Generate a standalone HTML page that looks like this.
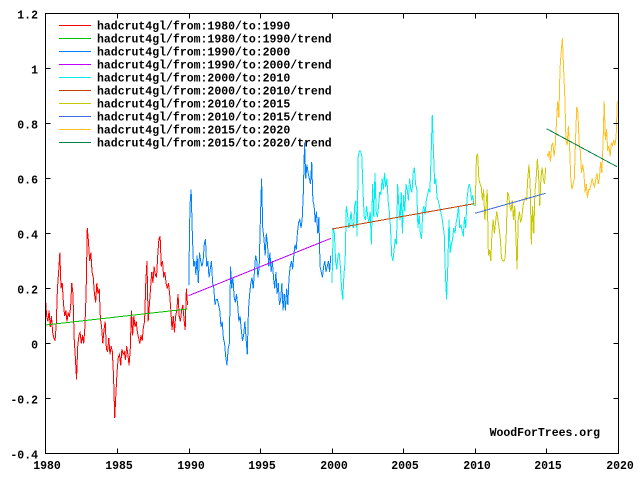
<!DOCTYPE html>
<html>
<head>
<meta charset="utf-8">
<style>
html,body{margin:0;padding:0;background:#fff;}
svg{display:block;}
text{font-family:"Liberation Mono","DejaVu Sans Mono",monospace;font-weight:bold;font-size:11.5px;fill:#000;}
</style>
</head>
<body>
<svg width="640" height="480" viewBox="0 0 640 480" xmlns="http://www.w3.org/2000/svg">
<rect x="0" y="0" width="640" height="480" fill="#fff"/>

<!-- series -->
<g transform="translate(45.5,343.5) scale(1.19375,-2.75)" fill="none" stroke-width="1" shape-rendering="crispEdges">
<polyline vector-effect="non-scaling-stroke" stroke="#ff0000" points="0,16 1,10 2,8 3,12 4,6 5,10 6,4 7,2 8,1 9,7 10,20 11,26 12,33 13,20 14,22 15,15 16,10 17,12 18,8 19,11 20,10 21,13 22,22 23,18 24,2 25,-5 26,-13 27,-1 28,3 29,4 30,0 31,3 32,0 33,6 34,18 35,42 36,37 37,30 38,33 39,26 40,24 41,18 42,15 43,22 44,18 45,20 46,9 47,6 48,0 49,5 50,8 51,-2 52,-3 53,2 54,-4 55,-1 56,-3 57,-12 58,-27 59,-18 60,-10 61,-5 62,-4 63,-8 64,-2 65,-4 66,-3 67,-6 68,-1 69,-4 70,-8 71,-2 72,12 73,3 74,10 75,6 76,8 77,4 78,2 79,0 80,3 81,1 82,6 83,8 84,22 85,30 86,8 87,14 88,20 89,26 90,22 91,28 92,25 93,24 94,32 95,38 96,39 97,28 98,30 99,24 100,26 101,22 102,20 103,22 104,18 105,12 106,5 107,10 108,4 109,10 110,12 111,18 112,10 113,8 114,12 115,14 116,9 117,5 118,20 119,14"/>
<polyline vector-effect="non-scaling-stroke" stroke="#0080ff" points="120,21 121,50 122,56 123,40 124,28 125,30 126,25 127,32 128,22 129,33 130,30 131,28 132,30 133,36 134,38 135,28 136,30 137,24 138,27 139,30 140,22 141,20 142,14 143,16 144,16 145,14 146,12 147,6 148,8 149,2 150,0 151,-5 152,-8 153,-2 154,0 155,28 156,20 157,24 158,17 159,15 160,18 161,14 162,8 163,10 164,5 165,1 166,3 167,8 168,2 169,-4 170,12 171,18 172,22 173,24 174,20 175,26 176,32 177,30 178,24 179,28 180,45 181,60 182,42 183,38 184,32 185,40 186,36 187,28 188,33 189,26 190,30 191,24 192,20 193,26 194,18 195,22 196,14 197,16 198,22 199,12 200,18 201,12 202,20 203,14 204,24 205,28 206,30 207,27 208,32 209,36 210,34 211,40 212,44 213,45 214,42 215,45 216,55 217,73 218,60 219,65 220,62 221,60 222,58 223,66 224,52 225,50 226,44 227,48 228,40 229,46 230,28 231,26 232,24 233,28 234,30 235,26 236,28 237,30 238,26 239,32"/>
<polyline vector-effect="non-scaling-stroke" stroke="#00eeee" points="240,22 241,42 242,40 243,30 244,27 245,32 246,33 247,28 248,20 249,16 250,25 251,30 252,50 253,47 254,42 255,44 256,48 257,43 258,42 259,50 260,52 261,39 262,68 263,70 264,70 265,68 266,55 267,46 268,45 269,50 270,46 271,44 272,48 273,36 274,58 275,46 276,62 277,48 278,46 279,50 280,55 281,54 282,60 283,56 284,62 285,57 286,60 287,52 288,48 289,42 290,32 291,30 292,34 293,38 294,36 295,58 296,50 297,45 298,55 299,40 300,54 301,48 302,58 303,56 304,52 305,60 306,56 307,55 308,62 309,64 310,58 311,56 312,42 313,47 314,40 315,38 316,48 317,50 318,47 319,52 320,54 321,56 322,55 323,68 324,83 325,70 326,58 327,60 328,53 329,52 330,50 331,48 332,46 333,43 334,40 335,25 336,16 337,28 338,45 339,33 340,36 341,38 342,42 343,40 344,44 345,46 346,50 347,42 348,43 349,41 350,39 351,46 352,42 353,52 354,56 355,58 356,56 357,52 358,54 359,50"/>
<polyline vector-effect="non-scaling-stroke" stroke="#c8c800" points="360,50 361,68 362,69 363,60 364,58 365,57 366,52 367,56 368,45 369,50 370,56 371,32 372,34 373,30 374,40 375,45 376,40 377,44 378,48 379,45 380,42 381,38 382,31 383,30 384,30 385,31 386,40 387,55 388,54 389,50 390,48 391,52 392,45 393,50 394,40 395,27 396,45 397,48 398,44 399,46 400,50 401,52 402,53 403,52 404,60 405,65 406,58 407,36 408,50 409,40 410,55 411,60 412,67 413,62 414,50 415,60 416,64 417,60 418,58 419,64"/>
<polyline vector-effect="non-scaling-stroke" stroke="#ffc020" points="420,69 421,68 422,70 423,66 424,72 425,73 426,68 427,72 428,80 429,88 430,82 431,100 432,106 433,111 434,100 435,90 436,74 437,72 438,79 439,72 440,60 441,56 442,58 443,60 444,74 445,86 446,84 447,73 448,70 449,62 450,65 451,62 452,55 453,58 454,53 455,56 456,56 457,58 458,60 459,58 460,57 461,60 462,62 463,58 464,60 465,66 466,62 467,72 468,88 469,74 470,78 471,70 472,72 473,68 474,73 475,72 476,74 477,72 478,75 479,88"/>
</g>

<!-- trend lines -->
<g stroke-width="1" shape-rendering="crispEdges">
<line x1="45.5" y1="325" x2="187.5" y2="309" stroke="#00c000"/>
<line x1="188.5" y1="295.7" x2="331" y2="238.3" stroke="#c000ff"/>
<line x1="332" y1="229" x2="474" y2="203.7" stroke="#c04000"/>
<line x1="475" y1="213.3" x2="545.5" y2="193.3" stroke="#4169e1"/>
<line x1="546.5" y1="128.7" x2="617" y2="166.7" stroke="#008040"/>
</g>

<!-- border -->
<g stroke="#000" stroke-width="1" fill="none" shape-rendering="crispEdges">
<rect x="45.5" y="13.5" width="573" height="440"/>
<!-- y ticks left & right -->
<path d="M45.5 68.5h5M45.5 123.5h5M45.5 178.5h5M45.5 233.5h5M45.5 288.5h5M45.5 343.5h5M45.5 398.5h5
M618.5 68.5h-5M618.5 123.5h-5M618.5 178.5h-5M618.5 233.5h-5M618.5 288.5h-5M618.5 343.5h-5M618.5 398.5h-5
M117.5 453.5v-5M189.5 453.5v-5M260.5 453.5v-5M332.5 453.5v-5M403.5 453.5v-5M475.5 453.5v-5M546.5 453.5v-5
M117.5 13.5v5M189.5 13.5v5M260.5 13.5v5M332.5 13.5v5M403.5 13.5v5M475.5 13.5v5M546.5 13.5v5"/>
</g>

<!-- y labels -->
<g text-anchor="end">
<text x="38" y="18.5">1.2</text>
<text x="38" y="73.5">1</text>
<text x="38" y="128.5">0.8</text>
<text x="38" y="183.5">0.6</text>
<text x="38" y="238.5">0.4</text>
<text x="38" y="293.5">0.2</text>
<text x="38" y="348.5">0</text>
<text x="38" y="403.5">-0.2</text>
<text x="38" y="458.5">-0.4</text>
</g>

<!-- x labels -->
<g text-anchor="middle">
<text x="47" y="469">1980</text>
<text x="119" y="469">1985</text>
<text x="191" y="469">1990</text>
<text x="262" y="469">1995</text>
<text x="334" y="469">2000</text>
<text x="405" y="469">2005</text>
<text x="477" y="469">2010</text>
<text x="548" y="469">2015</text>
<text x="620" y="469">2020</text>
</g>

<!-- legend -->
<g stroke-width="1" shape-rendering="crispEdges">
<line x1="59" y1="25.5" x2="91" y2="25.5" stroke="#ff0000"/>
<line x1="59" y1="38.5" x2="91" y2="38.5" stroke="#00c000"/>
<line x1="59" y1="51.5" x2="91" y2="51.5" stroke="#0080ff"/>
<line x1="59" y1="64.5" x2="91" y2="64.5" stroke="#c000ff"/>
<line x1="59" y1="77.5" x2="91" y2="77.5" stroke="#00eeee"/>
<line x1="59" y1="90.5" x2="91" y2="90.5" stroke="#c04000"/>
<line x1="59" y1="103.5" x2="91" y2="103.5" stroke="#c8c800"/>
<line x1="59" y1="116.5" x2="91" y2="116.5" stroke="#4169e1"/>
<line x1="59" y1="129.5" x2="91" y2="129.5" stroke="#ffc020"/>
<line x1="59" y1="142.5" x2="91" y2="142.5" stroke="#008040"/>
</g>
<g>
<text x="97" y="29.5">hadcrut4gl/from:1980/to:1990</text>
<text x="97" y="42.5">hadcrut4gl/from:1980/to:1990/trend</text>
<text x="97" y="55.5">hadcrut4gl/from:1990/to:2000</text>
<text x="97" y="68.5">hadcrut4gl/from:1990/to:2000/trend</text>
<text x="97" y="81.5">hadcrut4gl/from:2000/to:2010</text>
<text x="97" y="94.5">hadcrut4gl/from:2000/to:2010/trend</text>
<text x="97" y="107.5">hadcrut4gl/from:2010/to:2015</text>
<text x="97" y="120.5">hadcrut4gl/from:2010/to:2015/trend</text>
<text x="97" y="133.5">hadcrut4gl/from:2015/to:2020</text>
<text x="97" y="146.5">hadcrut4gl/from:2015/to:2020/trend</text>
</g>

<text x="600" y="436" text-anchor="end">WoodForTrees.org</text>
</svg>
</body>
</html>
